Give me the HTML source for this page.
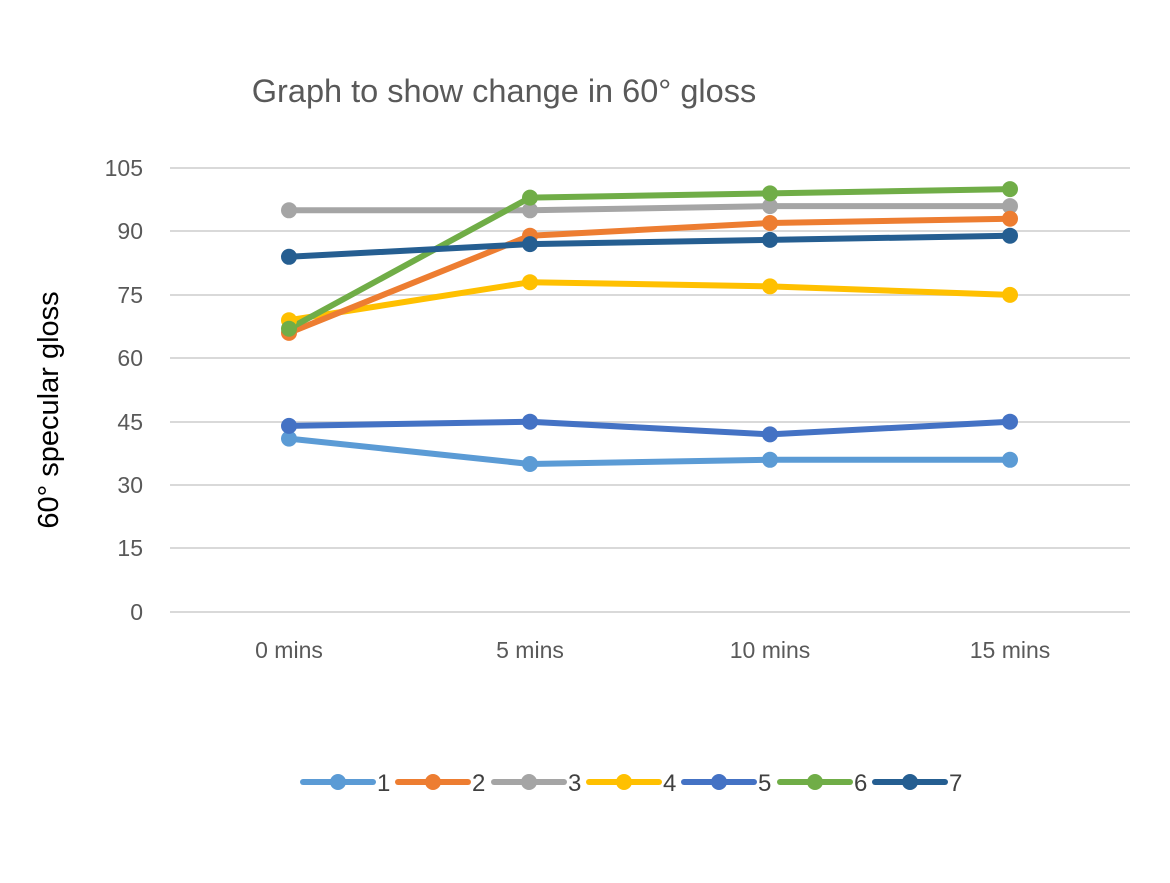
<!DOCTYPE html>
<html><head><style>body{margin:0;background:#fff}</style></head><body>
<svg width="1170" height="878" xmlns="http://www.w3.org/2000/svg" font-family="Liberation Sans, sans-serif">
<rect width="1170" height="878" fill="#fff"/>
<text x="504" y="102" font-size="32.5" fill="#595959" text-anchor="middle">Graph to show change in 60° gloss</text>
<g stroke="#d9d9d9" stroke-width="2">
<line x1="170" x2="1130" y1="168" y2="168"/><line x1="170" x2="1130" y1="231" y2="231"/>
<line x1="170" x2="1130" y1="295" y2="295"/><line x1="170" x2="1130" y1="358" y2="358"/>
<line x1="170" x2="1130" y1="422" y2="422"/><line x1="170" x2="1130" y1="485" y2="485"/>
<line x1="170" x2="1130" y1="548" y2="548"/><line x1="170" x2="1130" y1="612" y2="612"/>
</g>
<g font-size="23" fill="#595959" text-anchor="end">
<text x="143" y="176">105</text><text x="143" y="239">90</text><text x="143" y="303">75</text>
<text x="143" y="366">60</text><text x="143" y="430">45</text><text x="143" y="493">30</text>
<text x="143" y="556">15</text><text x="143" y="620">0</text>
</g>
<g font-size="23" fill="#595959" text-anchor="middle">
<text x="289" y="658">0 mins</text><text x="530" y="658">5 mins</text>
<text x="770" y="658">10 mins</text><text x="1010" y="658">15 mins</text>
</g>
<text transform="translate(58,410) rotate(-90)" font-size="29" fill="#000" text-anchor="middle">60° specular gloss</text>
<g stroke-width="6" fill="none" stroke-linejoin="round">
<polyline stroke="#5B9BD5" points="289,438.6 530,464 770,459.8 1010,459.8"/>
<polyline stroke="#A5A5A5" points="289,210.3 530,210.3 770,206.1 1010,206.1"/>
<polyline stroke="#FFC000" points="289,320.2 530,282.2 770,286.4 1010,294.9"/>
<polyline stroke="#ED7D31" points="289,332.9 530,235.7 770,223 1010,218.7"/>
<polyline stroke="#70AD47" points="289,328.7 530,197.6 770,193.4 1010,189.1"/>
<polyline stroke="#255E91" points="289,256.8 530,244.1 770,239.9 1010,235.7"/>
<polyline stroke="#4472C4" points="289,425.9 530,421.7 770,434.4 1010,421.7"/>
</g>
<g>
<g fill="#5B9BD5"><circle cx="289" cy="438.6" r="8"/><circle cx="530" cy="464" r="8"/><circle cx="770" cy="459.8" r="8"/><circle cx="1010" cy="459.8" r="8"/></g>
<g fill="#A5A5A5"><circle cx="289" cy="210.3" r="8"/><circle cx="530" cy="210.3" r="8"/><circle cx="770" cy="206.1" r="8"/><circle cx="1010" cy="206.1" r="8"/></g>
<g fill="#FFC000"><circle cx="289" cy="320.2" r="8"/><circle cx="530" cy="282.2" r="8"/><circle cx="770" cy="286.4" r="8"/><circle cx="1010" cy="294.9" r="8"/></g>
<g fill="#ED7D31"><circle cx="289" cy="332.9" r="8"/><circle cx="530" cy="235.7" r="8"/><circle cx="770" cy="223" r="8"/><circle cx="1010" cy="218.7" r="8"/></g>
<g fill="#70AD47"><circle cx="289" cy="328.7" r="8"/><circle cx="530" cy="197.6" r="8"/><circle cx="770" cy="193.4" r="8"/><circle cx="1010" cy="189.1" r="8"/></g>
<g fill="#255E91"><circle cx="289" cy="256.8" r="8"/><circle cx="530" cy="244.1" r="8"/><circle cx="770" cy="239.9" r="8"/><circle cx="1010" cy="235.7" r="8"/></g>
<g fill="#4472C4"><circle cx="289" cy="425.9" r="8"/><circle cx="530" cy="421.7" r="8"/><circle cx="770" cy="434.4" r="8"/><circle cx="1010" cy="421.7" r="8"/></g>
</g>
<g stroke-width="6" stroke-linecap="round" font-size="24" fill="#404040">
<line x1="303" x2="373" y1="782" y2="782" stroke="#5B9BD5"/><circle cx="338" cy="782" r="8" fill="#5B9BD5"/><text x="377" y="791">1</text>
<line x1="398" x2="468" y1="782" y2="782" stroke="#ED7D31"/><circle cx="433" cy="782" r="8" fill="#ED7D31"/><text x="472" y="791">2</text>
<line x1="494" x2="564" y1="782" y2="782" stroke="#A5A5A5"/><circle cx="529" cy="782" r="8" fill="#A5A5A5"/><text x="568" y="791">3</text>
<line x1="589" x2="659" y1="782" y2="782" stroke="#FFC000"/><circle cx="624" cy="782" r="8" fill="#FFC000"/><text x="663" y="791">4</text>
<line x1="684" x2="754" y1="782" y2="782" stroke="#4472C4"/><circle cx="719" cy="782" r="8" fill="#4472C4"/><text x="758" y="791">5</text>
<line x1="780" x2="850" y1="782" y2="782" stroke="#70AD47"/><circle cx="815" cy="782" r="8" fill="#70AD47"/><text x="854" y="791">6</text>
<line x1="875" x2="945" y1="782" y2="782" stroke="#255E91"/><circle cx="910" cy="782" r="8" fill="#255E91"/><text x="949" y="791">7</text>
</g>
</svg>
</body></html>
